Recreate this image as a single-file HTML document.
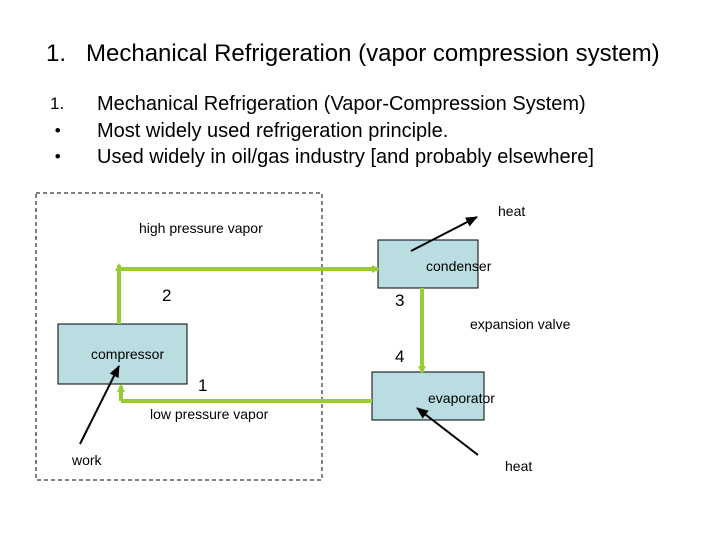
<!DOCTYPE html>
<html><head><style>
body{margin:0;width:720px;height:540px;background:#fff;overflow:hidden;font-family:"Liberation Sans",sans-serif;position:relative}
.t{position:absolute;white-space:nowrap;color:#000}
</style></head><body>
<div class="t" style="left:46px;top:40px;font-size:24px">1.&nbsp;&nbsp; Mechanical Refrigeration (vapor compression system)</div>
<div class="t" style="left:50px;top:91px;font-size:17px;line-height:26.5px">1.<br>&nbsp;•<br>&nbsp;•</div>
<div class="t" style="left:97px;top:91px;font-size:20px;line-height:26.5px">Mechanical Refrigeration (Vapor-Compression System)<br>Most widely used refrigeration principle.<br>Used widely in oil/gas industry [and probably elsewhere]</div>
<svg width="720" height="540" style="position:absolute;left:0;top:0" font-family="Liberation Sans, sans-serif" font-size="14">
<defs>
<marker id="g" markerWidth="8" markerHeight="8" refX="6" refY="4" orient="auto" markerUnits="userSpaceOnUse"><path d="M0,0L8,4L0,8z" fill="#99cc33"/></marker>
<marker id="k" markerWidth="12" markerHeight="10" refX="11" refY="5" orient="auto" markerUnits="userSpaceOnUse"><path d="M0,0L12,5L0,10z" fill="#000"/></marker>
</defs>
<rect x="36" y="193" width="286" height="287" fill="none" stroke="#000" stroke-dasharray="4,3"/>
<rect x="378" y="240" width="100" height="48" fill="#b9dde1" stroke="#000"/>
<rect x="58" y="324" width="129" height="60" fill="#b9dde1" stroke="#000"/>
<rect x="372" y="372" width="112" height="48" fill="#b9dde1" stroke="#000"/>
<g stroke="#99cc33" stroke-width="4" fill="none">
<line x1="119" y1="324" x2="119" y2="265" marker-end="url(#g)"/>
<line x1="119" y1="269" x2="378" y2="269" marker-end="url(#g)"/>
<line x1="422" y1="288" x2="422" y2="372" marker-end="url(#g)"/>
<polyline points="372,401 121,401"/>
<line x1="121" y1="401" x2="121" y2="386" marker-end="url(#g)"/>
</g>
<g stroke="#000" stroke-width="2">
<line x1="411" y1="251" x2="477" y2="217" marker-end="url(#k)"/>
<line x1="80" y1="444" x2="119" y2="366" marker-end="url(#k)"/>
<line x1="478" y1="455" x2="417" y2="408" marker-end="url(#k)"/>
</g>
<text x="139" y="233">high pressure vapor</text>
<text x="498" y="216">heat</text>
<text x="426" y="271">condenser</text>
<text x="162" y="301" font-size="17">2</text>
<text x="395" y="306" font-size="17">3</text>
<text x="470" y="329">expansion valve</text>
<text x="91" y="359">compressor</text>
<text x="395" y="362" font-size="17">4</text>
<text x="198" y="391" font-size="17">1</text>
<text x="428" y="403">evaporator</text>
<text x="150" y="419">low pressure vapor</text>
<text x="72" y="465">work</text>
<text x="505" y="471">heat</text>
</svg>
</body></html>
